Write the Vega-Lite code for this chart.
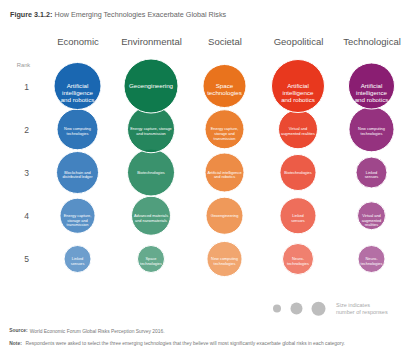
{
  "$schema": "https://vega.github.io/schema/vega-lite/v6.json",
  "width": 371,
  "height": 235,
  "autosize": {"type": "none"},
  "padding": {"left": 39, "top": 55, "right": 0, "bottom": 67},
  "background": "white",
  "config": {
    "view": {"stroke": null},
    "font": "Liberation Sans",
    "legend": {"padding": 0}
  },
  "data": {
    "values": [
      {"category": "Economic", "rank": 1, "tech": "Artificial\nintelligence\nand robotics", "responses": 221},
      {"category": "Economic", "rank": 2, "tech": "New computing\ntechnologies", "responses": 168},
      {"category": "Economic", "rank": 3, "tech": "Blockchain and\ndistributed ledger", "responses": 176},
      {"category": "Economic", "rank": 4, "tech": "Energy capture,\nstorage and\ntransmission", "responses": 123},
      {"category": "Economic", "rank": 5, "tech": "Linked\nsensors", "responses": 73},
      {"category": "Environmental", "rank": 1, "tech": "Geoengineering", "responses": 292},
      {"category": "Environmental", "rank": 2, "tech": "Energy capture, storage\nand transmission", "responses": 221},
      {"category": "Environmental", "rank": 3, "tech": "Biotechnologies", "responses": 221},
      {"category": "Environmental", "rank": 4, "tech": "Advanced materials\nand nanomaterials", "responses": 152},
      {"category": "Environmental", "rank": 5, "tech": "Space\ntechnologies", "responses": 73},
      {"category": "Societal", "rank": 1, "tech": "Space\ntechnologies", "responses": 185},
      {"category": "Societal", "rank": 2, "tech": "Energy capture,\nstorage and\ntransmission", "responses": 152},
      {"category": "Societal", "rank": 3, "tech": "Artificial intelligence\nand robotics", "responses": 152},
      {"category": "Societal", "rank": 4, "tech": "Geoengineering", "responses": 137},
      {"category": "Societal", "rank": 5, "tech": "New computing\ntechnologies", "responses": 123},
      {"category": "Geopolitical", "rank": 1, "tech": "Artificial\nintelligence\nand robotics", "responses": 281},
      {"category": "Geopolitical", "rank": 2, "tech": "Virtual and\naugmented realities", "responses": 152},
      {"category": "Geopolitical", "rank": 3, "tech": "Biotechnologies", "responses": 130},
      {"category": "Geopolitical", "rank": 4, "tech": "Linked\nsensors", "responses": 130},
      {"category": "Geopolitical", "rank": 5, "tech": "Neuro-\ntechnologies", "responses": 96},
      {"category": "Technological", "rank": 1, "tech": "Artificial\nintelligence\nand robotics", "responses": 212},
      {"category": "Technological", "rank": 2, "tech": "New computing\ntechnologies", "responses": 203},
      {"category": "Technological", "rank": 3, "tech": "Linked\nsensors", "responses": 96},
      {"category": "Technological", "rank": 4, "tech": "Virtual and\naugmented\nrealities", "responses": 78},
      {"category": "Technological", "rank": 5, "tech": "Neuro-\ntechnologies", "responses": 73}
    ]
  },
  "encoding": {
    "x": {
      "field": "category",
      "type": "nominal",
      "scale": {"type": "point", "padding": 0.524, "domain": ["Economic", "Environmental", "Societal", "Geopolitical", "Technological"]}
    },
    "y": {
      "field": "rank",
      "type": "ordinal",
      "scale": {"type": "point", "padding": 0.717, "domain": [1, 2, 3, 4, 5]}
    }
  },
  "layer": [
    {
      "mark": {"type": "circle", "opacity": 1, "stroke": "white", "strokeWidth": 1},
      "encoding": {
        "x": {
          "field": "category", "type": "nominal",
          "axis": {
            "orient": "top", "domain": false, "ticks": false, "grid": false,
            "labelFontSize": 9.5, "labelColor": "#555", "labelPadding": 11, "labelBaseline": "alphabetic", "labelAngle": 0,
            "title": "How Emerging Technologies Exacerbate Global Risks",
            "titleFontSize": 7.2, "titleFontWeight": "normal", "titleColor": "#666",
            "titleAlign": "left", "titleBaseline": "alphabetic", "titleAngle": 0, "titleX": 15, "titleY": -38.4
          }
        },
        "y": {
          "field": "rank", "type": "ordinal",
          "axis": {
            "orient": "left", "domain": false, "ticks": false, "grid": false,
            "labelFontSize": 8.5, "labelColor": "#555", "labelPadding": 13, "labelAlign": "center",
            "title": "Rank",
            "titleFontSize": 5.8, "titleFontWeight": "normal", "titleColor": "#999",
            "titleAlign": "center", "titleBaseline": "alphabetic", "titleAngle": 0, "titleX": -16, "titleY": 11.5
          }
        },
        "color": {
          "field": "category", "type": "nominal",
          "scale": {
            "domain": ["Economic", "Environmental", "Societal", "Geopolitical", "Technological"],
            "range": ["#1a67b1", "#0f7a4d", "#e9731d", "#e8381e", "#8a1e72"]
          },
          "legend": {
            "orient": "none", "legendX": -29, "legendY": -44,
            "title": "Figure 3.1.2:", "titleFontSize": 7.2, "titleFontWeight": "bold", "titleColor": "#3a3a3a",
            "symbolOpacity": 0, "symbolSize": 0, "labelOpacity": 0, "labelExpr": "''", "labelOffset": 0,
            "direction": "horizontal", "columnPadding": 0
          }
        },
        "fillOpacity": {
          "field": "rank", "type": "quantitative",
          "scale": {"domain": [1, 5], "range": [1, 0.64]},
          "legend": null
        },
        "size": {
          "field": "responses", "type": "quantitative",
          "scale": {"domain": [0, 300], "range": [0, 3000], "zero": true},
          "legend": {
            "orient": "none", "legendX": 233, "legendY": 246, "direction": "horizontal",
            "values": [6.4, 14.4, 19.6],
            "title": ["Size indicates", "number of responses"], "titleOrient": "right",
            "titleFontSize": 5.5, "titleFontWeight": "normal", "titleColor": "#aaa", "titleLineHeight": 6.5, "titlePadding": 10,
            "symbolFillColor": "#bdbdbd", "symbolStrokeColor": "#bdbdbd", "symbolStrokeWidth": 0, "symbolOpacity": 1,
            "labelExpr": "''", "labelOffset": 0, "columnPadding": 8.5
          }
        },
        "order": {"field": "rank", "type": "quantitative", "sort": "descending"}
      }
    },
    {
      "mark": {
        "type": "text", "align": "center", "baseline": "middle", "lineBreak": "\n",
        "fontSize": {"expr": "datum.rank == 1 ? 6.2 : 3.9"},
        "lineHeight": {"expr": "datum.rank == 1 ? 6.9 : 4.8"}
      },
      "encoding": {
        "x": {
          "field": "category", "type": "nominal",
          "axis": {
            "orient": "bottom", "domain": false, "ticks": false, "labels": false, "grid": false,
            "title": "World Economic Forum Global Risks Perception Survey 2016.",
            "titleFontSize": 4.9, "titleFontWeight": "normal", "titleColor": "#777",
            "titleAlign": "left", "titleBaseline": "alphabetic", "titleAngle": 0, "titleX": -9.7, "titleY": 42
          }
        },
        "y": {
          "field": "rank", "type": "ordinal",
          "axis": {
            "orient": "right", "domain": false, "ticks": false, "labels": false, "grid": false,
            "title": "Respondents were asked to select the three emerging technologies that they believe will most significantly exacerbate global risks in each category.",
            "titleFontSize": 4.9, "titleFontWeight": "normal", "titleColor": "#777",
            "titleAlign": "left", "titleBaseline": "alphabetic", "titleAngle": 0, "titleX": -385, "titleY": 289.5, "titleLimit": 1000
          }
        },
        "text": {"field": "tech"},
        "color": {
          "field": "rank", "type": "ordinal",
          "scale": {"domain": [1, 2, 3, 4, 5], "range": ["white", "white", "white", "white", "white"]},
          "legend": {
            "orient": "none", "legendX": -29.7, "legendY": 273,
            "title": ["Source:", "Note:"], "titleFontSize": 4.9, "titleFontWeight": "bold", "titleColor": "#555", "titleLineHeight": 12.5,
            "symbolOpacity": 0, "symbolSize": 0, "labelOpacity": 0, "labelExpr": "''", "labelOffset": 0,
            "direction": "horizontal", "columnPadding": 0
          }
        }
      }
    }
  ],
  "resolve": {
    "axis": {"x": "independent", "y": "independent"},
    "scale": {"color": "independent"},
    "legend": {"color": "independent"}
  }
}
